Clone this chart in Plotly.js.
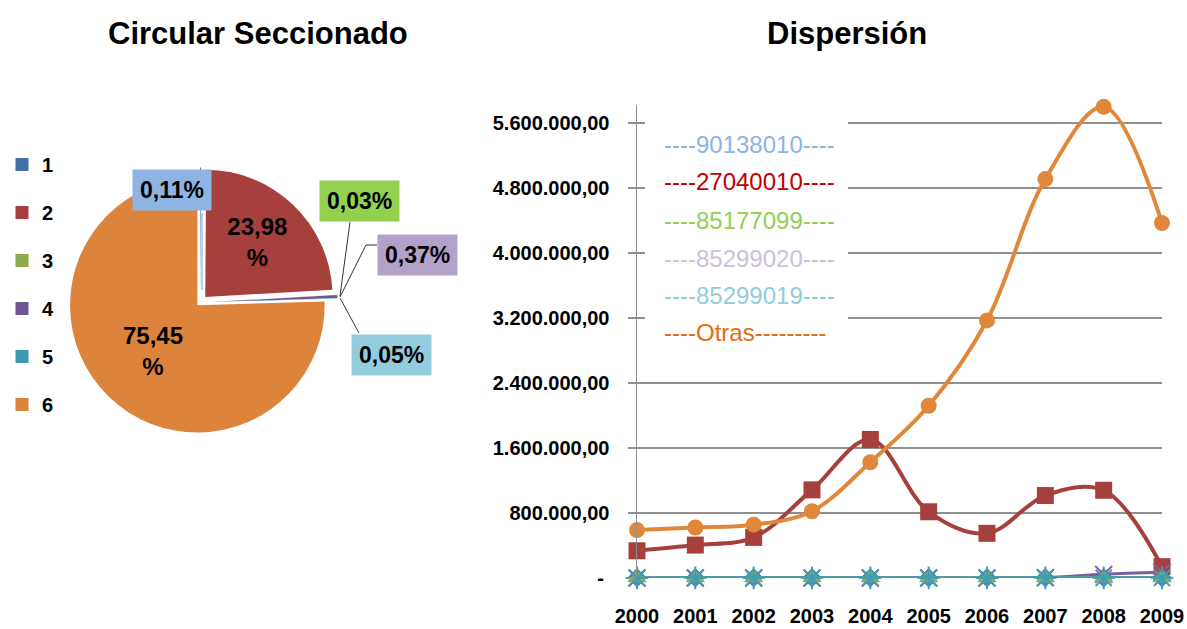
<!DOCTYPE html>
<html>
<head>
<meta charset="utf-8">
<script src="https://cdn.plot.ly/plotly-3.0.1.min.js"></script>
<style>html,body{margin:0;padding:0;background:#fff;}#chart{width:1187px;height:629px;}</style>
</head>
<body>
<div id="chart"></div>
<script>
// ---------- data ----------
const years = [2000, 2001, 2002, 2003, 2004, 2005, 2006, 2007, 2008, 2009];
const seriesNames = ['90138010', '27040010', '85177099', '85299020', '85299019', 'Otras'];
const s90138010 = [3000, 3500, 4000, 3000, 4000, 3500, 3500, 4000, 4000, 3500];
const s27040010 = [335000, 405000, 500000, 1085000, 1705000, 815000, 550000, 1015000, 1080000, 140000];
const s85177099 = [900, 1000, 1000, 1100, 1000, 1000, 900, 1100, 1000, 1000];
const s85299020 = [0, 0, 0, 0, 0, 0, 0, 5000, 45000, 70000];
const s85299019 = [1500, 1600, 1600, 1700, 1600, 1600, 1500, 1700, 1600, 1600];
const sOtras = [590000, 622000, 656000, 822000, 1425000, 2120000, 3170000, 4910000, 5800000, 4370000];

const pieLabels = ['1', '2', '3', '4', '5', '6'];
const piePercents = [0.11, 23.98, 0.03, 0.37, 0.05, 75.45];

const yTickVals = [0, 800000, 1600000, 2400000, 3200000, 4000000, 4800000, 5600000];

// ---------- styles ----------
const W = 1187, H = 629;
const px = x => x / W;
const py = y => 1 - y / H;
const ARIAL = '"Liberation Sans", Arial, sans-serif';

const pieColors = ['#4470A8', '#A6403D', '#8DAA4E', '#6E5696', '#3A9AB2', '#DC843C'];
const lineColors = ['#4F81BD', '#A6403D', '#8DB04F', '#7B5FA0', '#3E9DB5', '#E0873A'];
const legendTextColors = ['#8DB3E2', '#C00000', '#92D050', '#CCC0DA', '#92CDDC', '#E46C0A'];
const symbols = ['diamond', 'square', 'triangle-up', 'x-thin-open', 'asterisk-open', 'circle'];
const markerSizes = [15, 17, 17, 17, 19, 16];
const boxColors = ['#8DB4E2', null, '#92D050', '#B3A2C7', '#93CDDD', null];

function fmtNum(v) {
  if (v === 0) return '-\u00a0';
  const s = v.toFixed(2).split('.');
  return s[0].replace(/\B(?=(\d{3})+(?!\d))/g, '.') + ',' + s[1];
}
function fmtPct(v) { return v.toFixed(2).replace('.', ','); }

const seriesData = [s90138010, s27040010, s85177099, s85299020, s85299019, sOtras];
const drawOrder = [1, 5, 0, 3, 2, 4];

const traces = [];
drawOrder.forEach(i => {
  const isTiny = i !== 1 && i !== 5;
  const sym = symbols[i];
  const openSym = sym.indexOf('open') >= 0;
  traces.push({
    type: 'scatter', mode: 'lines+markers', x: years, y: seriesData[i], name: seriesNames[i],
    showlegend: false, cliponaxis: false,
    line: { color: lineColors[i], width: isTiny ? 3 : 4, shape: 'spline', smoothing: 1 },
    marker: openSym
      ? { symbol: sym, size: markerSizes[i], color: lineColors[i], line: { color: lineColors[i], width: 2 } }
      : { symbol: sym, size: markerSizes[i], color: lineColors[i], line: { width: 0 } }
  });
});

// pie
traces.push({
  type: 'pie', labels: pieLabels, values: piePercents, sort: false, direction: 'clockwise', rotation: 0,
  marker: { colors: pieColors, line: { width: 0 } },
  pull: [0.06, 0.06, 0.08, 0.08, 0.08, 0.03],
  domain: { x: [px(60), px(340)], y: [py(440), py(165)] },
  text: piePercents.map(v => fmtPct(v) + '<br>%'),
  texttemplate: piePercents.map(v => v > 5 ? '%{text}' : ''),
  textposition: piePercents.map(v => v > 5 ? 'inside' : 'none'),
  insidetextorientation: 'horizontal',
  insidetextfont: { family: ARIAL, size: 24, color: '#000', weight: 700 },
  showlegend: false, hoverinfo: 'label+percent'
});

// legend entries for pie (square keys)
pieLabels.forEach((lab, i) => {
  traces.push({
    type: 'scatter', mode: 'markers', x: [null], y: [null], name: lab, legendgroup: 'g' + i,
    showlegend: true, marker: { symbol: 'square', size: 13, color: pieColors[i] }
  });
});

// ---------- annotations ----------
const annotations = [
  { text: 'Circular Seccionado', x: px(258), y: py(33), xref: 'paper', yref: 'paper', xanchor: 'center', yanchor: 'middle',
    showarrow: false, font: { family: ARIAL, size: 31, color: '#000', weight: 700 } },
  { text: 'Dispersión', x: px(847), y: py(33), xref: 'paper', yref: 'paper', xanchor: 'center', yanchor: 'middle',
    showarrow: false, font: { family: ARIAL, size: 31, color: '#000', weight: 700 } }
];
// pie small labels
const boxPos = [[172, 190], null, [359, 201], [417, 255], [391, 355], null];
piePercents.forEach((v, i) => {
  if (!boxPos[i]) return;
  annotations.push({
    text: fmtPct(v) + '%', x: px(boxPos[i][0]), y: py(boxPos[i][1]), xref: 'paper', yref: 'paper',
    xanchor: 'center', yanchor: 'middle',
    showarrow: false, bgcolor: boxColors[i], borderpad: 7,
    font: { family: ARIAL, size: 23, color: '#000', weight: 700 }
  });
});
// in-plot legend for lines
const legY = [145, 182, 221, 258, 295, 332];
seriesNames.forEach((n, i) => {
  annotations.push({
    text: n === 'Otras' ? '----' + n + '---------' : '----' + n + '----',
    x: px(662), y: py(legY[i]), xref: 'paper', yref: 'paper', xanchor: 'left', yanchor: 'middle', showarrow: false,
    font: { family: ARIAL, size: 24, color: legendTextColors[i] }
  });
});

// ---------- shapes ----------
const shapes = [
  { type: 'rect', xref: 'paper', yref: 'paper', x0: px(645), x1: px(848), y0: py(352), y1: py(116),
    fillcolor: '#fff', line: { width: 0 }, layer: 'above' },
  // leader lines
  { type: 'line', xref: 'paper', yref: 'paper', x0: px(202), y0: py(213), x1: px(202), y1: py(290),
    line: { color: '#A9BFD9', width: 1.5 } },
  { type: 'line', xref: 'paper', yref: 'paper', x0: px(350), y0: py(222), x1: px(340), y1: py(296),
    line: { color: '#333', width: 1 } },
  { type: 'path', xref: 'paper', yref: 'paper',
    path: 'M' + px(377) + ',' + py(245) + ' L' + px(366) + ',' + py(245) + ' L' + px(340) + ',' + py(297),
    line: { color: '#333', width: 1 } },
  { type: 'line', xref: 'paper', yref: 'paper', x0: px(359), y0: py(333), x1: px(340), y1: py(298),
    line: { color: '#333', width: 1 } }
];

const layout = {
  width: W, height: H, margin: { l: 0, r: 0, t: 0, b: 0 },
  paper_bgcolor: '#fff', plot_bgcolor: '#fff',
  showlegend: true,
  legend: { x: px(2), xanchor: 'left', y: py(145), yanchor: 'top', tracegroupgap: 19,
    font: { family: ARIAL, size: 20, color: '#000', weight: 700 }, bgcolor: 'rgba(0,0,0,0)', itemwidth: 30 },
  xaxis: {
    domain: [px(637), px(1162)], range: [2000, 2009], tickvals: years, ticktext: years.map(String),
    showgrid: false, zeroline: false, showline: false, ticks: 'outside', ticklen: 20, tickcolor: 'rgba(0,0,0,0)',
    tickfont: { family: ARIAL, size: 20, color: '#000', weight: 700 }, fixedrange: true
  },
  yaxis: {
    domain: [py(578), py(105)], range: [0, 5822000], tickvals: yTickVals, ticktext: yTickVals.map(fmtNum),
    showgrid: true, gridcolor: '#8f8f8f', gridwidth: 1.5, zeroline: false,
    showline: true, linecolor: '#8f8f8f', linewidth: 1.5,
    ticks: 'outside', ticklen: 8, tickcolor: '#8f8f8f', tickwidth: 1.5, ticklabelstandoff: 14,
    tickfont: { family: ARIAL, size: 20, color: '#000', weight: 700 }, fixedrange: true
  },
  annotations: annotations,
  shapes: shapes
};

Plotly.newPlot('chart', traces, layout, { displayModeBar: false, staticPlot: true });
</script>
</body>
</html>
